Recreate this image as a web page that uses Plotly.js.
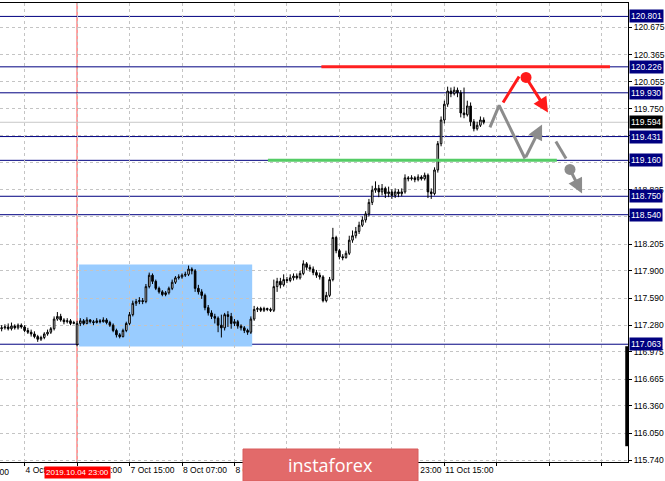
<!DOCTYPE html>
<html>
<head>
<meta charset="utf-8">
<script src="https://cdn.plot.ly/plotly-3.0.1.min.js"></script>
<style>html,body{margin:0;padding:0;background:#fff}#chart{width:665px;height:481px}</style>
</head>
<body>
<div id="chart"></div>
<script>
// ---- data (bar index 0 = 2019.10.04 23:00, H1 bars) ----
const firstBar = -23;
const openP = [117.24,117.25,117.26,117.24,117.27,117.25,117.28,117.26,117.22,117.20,117.18,117.15,117.12,117.14,117.18,117.20,117.24,117.35,117.38,117.34,117.32,117.33,117.30,
117.06,117.30,117.33,117.30,117.34,117.32,117.31,117.33,117.32,117.34,
117.31,117.28,117.22,117.17,117.15,117.22,117.30,117.40,117.53,117.55,
117.56,117.55,117.72,117.85,117.78,117.70,117.66,117.63,117.65,117.70,
117.77,117.82,117.83,117.85,117.86,117.92,117.90,117.70,117.66,117.62,
117.48,117.42,117.38,117.36,117.28,117.25,117.40,117.38,117.30,117.32,
117.27,117.25,117.22,117.20,117.35,117.46,117.47,117.45,117.47,117.46,
117.45,117.72,117.78,117.74,117.80,117.79,117.82,117.84,117.82,117.87,
117.98,117.94,117.92,117.88,117.85,117.83,117.56,117.62,117.80,118.28,
118.13,118.06,118.05,118.10,118.25,118.30,118.35,118.42,118.48,118.55,
118.68,118.82,118.84,118.80,118.84,118.78,118.80,118.76,118.80,118.78,
118.80,118.96,118.95,118.96,118.94,118.97,118.95,118.99,118.80,118.78,
119.05,119.35,119.62,119.80,119.95,119.92,119.96,119.93,119.70,119.68,
119.78,119.60,119.52,119.56,119.62];
const highP = [117.28,117.29,117.30,117.31,117.29,117.30,117.30,117.28,117.25,117.23,117.21,117.17,117.16,117.20,117.23,117.26,117.38,117.43,117.41,117.36,117.36,117.35,117.33,
117.33,117.36,117.35,117.37,117.35,117.34,117.36,117.35,117.37,117.36,
117.33,117.30,117.24,117.19,117.24,117.32,117.43,117.56,117.58,117.60,
117.59,117.75,117.88,117.87,117.80,117.72,117.68,117.67,117.72,117.80,
117.84,117.86,117.87,117.89,117.96,117.94,117.92,117.74,117.69,117.64,
117.51,117.45,117.41,117.38,117.40,117.42,117.44,117.42,117.35,117.34,
117.29,117.27,117.24,117.38,117.50,117.49,117.49,117.49,117.48,117.48,
117.80,117.82,117.82,117.86,117.83,117.86,117.87,117.87,117.90,118.02,
118.00,117.97,117.95,117.91,117.88,117.85,117.66,117.83,118.39,118.30,
118.15,118.09,118.13,118.30,118.36,118.40,118.46,118.52,118.58,118.72,
118.87,118.92,118.88,118.89,118.86,118.86,118.83,118.84,118.83,118.84,
119.00,118.98,118.99,118.98,119.00,118.99,119.02,119.01,118.84,119.08,
119.38,119.66,119.84,120.00,119.99,120.00,119.99,119.96,119.99,119.84,
119.82,119.63,119.60,119.66,119.65];
const lowP = [117.21,117.23,117.22,117.22,117.23,117.23,117.24,117.20,117.18,117.15,117.13,117.09,117.10,117.12,117.16,117.18,117.22,117.33,117.32,117.29,117.30,117.28,117.29,
117.04,117.27,117.28,117.29,117.30,117.28,117.30,117.30,117.31,117.29,
117.26,117.20,117.14,117.13,117.14,117.20,117.28,117.38,117.50,117.52,
117.52,117.53,117.70,117.75,117.68,117.64,117.61,117.61,117.63,117.68,
117.75,117.80,117.81,117.83,117.84,117.86,117.66,117.63,117.58,117.45,
117.39,117.35,117.30,117.20,117.14,117.22,117.26,117.24,117.27,117.24,
117.22,117.19,117.17,117.18,117.33,117.43,117.43,117.43,117.44,117.43,
117.43,117.66,117.70,117.72,117.76,117.77,117.79,117.80,117.80,117.85,
117.91,117.89,117.85,117.82,117.80,117.54,117.54,117.60,117.78,118.10,
118.03,118.02,118.04,118.08,118.22,118.27,118.32,118.40,118.45,118.52,
118.65,118.79,118.74,118.76,118.73,118.74,118.72,118.73,118.74,118.75,
118.78,118.92,118.93,118.91,118.92,118.93,118.93,118.73,118.72,118.76,
119.02,119.32,119.58,119.77,119.88,119.90,119.88,119.65,119.64,119.66,
119.55,119.49,119.50,119.54,119.57];
const closeP = [117.25,117.26,117.24,117.27,117.25,117.28,117.26,117.22,117.20,117.18,117.15,117.12,117.14,117.18,117.20,117.24,117.35,117.38,117.34,117.32,117.33,117.30,117.31,
117.30,117.33,117.30,117.34,117.32,117.31,117.33,117.32,117.34,117.31,
117.28,117.22,117.17,117.15,117.22,117.30,117.40,117.53,117.55,117.56,
117.55,117.72,117.85,117.78,117.70,117.66,117.63,117.65,117.70,117.77,
117.82,117.83,117.85,117.86,117.92,117.90,117.70,117.66,117.62,117.48,
117.42,117.38,117.36,117.28,117.25,117.40,117.38,117.30,117.32,117.27,
117.25,117.22,117.20,117.35,117.46,117.47,117.45,117.47,117.46,117.45,
117.72,117.78,117.74,117.80,117.79,117.82,117.84,117.82,117.87,117.98,
117.94,117.92,117.88,117.85,117.83,117.56,117.62,117.80,118.28,118.13,
118.06,118.05,118.10,118.25,118.30,118.35,118.42,118.48,118.55,118.68,
118.82,118.84,118.80,118.84,118.78,118.80,118.76,118.80,118.78,118.80,
118.96,118.95,118.96,118.94,118.97,118.95,118.99,118.80,118.78,119.05,
119.35,119.62,119.80,119.95,119.92,119.96,119.93,119.70,119.68,119.78,
119.60,119.52,119.56,119.62,119.594];

const timeTickBars = [-16,0,16,32,48,64,80,96,112,128,144,160];
// labels at 64 and 80 are fully hidden under the watermark in the original
const timeTickLabels = ['4 Oct 07:00','4 Oct 23:00','7 Oct 15:00','8 Oct 07:00','8 Oct 23:00','','','10 Oct 23:00','11 Oct 15:00','','',''];
const priceTicks = [120.675,120.365,120.055,119.750,119.440,119.130,118.825,118.515,118.205,117.900,117.590,117.280,116.975,116.665,116.360,116.050,115.740];
const hiddenTicks = [119.440,119.130,118.515]; // covered by level labels in the original
const levels = [120.801,120.226,119.930,119.431,119.160,118.750,118.540,117.063];
const bidPrice = 119.594;
const markerBar = 0; // 2019.10.04 23:00
const markerLabel = '2019.10.04 23:00';
// blue zone: bars & prices
const zoneBars = [0.6, 53.4];
const zonePrices = [117.037, 117.973];
// resistance (red) and support (green) segments
const redSegBars = [74.5,162.5];
const redSegPrices = [120.226,120.226];
const greenSegBars = [58.2,146.3];
const greenSegPrices = [119.160,119.160];
// forecast drawing paths (bar, price)
const greyPathBars = [125.9,128.7,136.6];
const greyPathPrices = [119.535,119.786,119.181];
const greyArrowTip = [141.8,119.569];
const redPathBars = [129.9,134.8];
const redPathPrices = [119.82,120.116];
const redDot = [136.9,120.105];
const redArrowTip = [143.6,119.706];
const dashPathBars = [146.0,149.1];
const dashPathPrices = [119.375,119.181];
const greyDot = [150.3,119.056];
const greyArrowTip2 = [154.0,118.782];

const xBars = closeP.map((_, k) => firstBar + k);
const fmt = v => v.toFixed(3);
const FONT = 'Liberation Sans, Arial, sans-serif';
const NAVY = '#000080';
const traces = [
  {type:'candlestick', x:xBars, open:openP, high:highP, low:lowP, close:closeP,
   increasing:{line:{color:'#000000',width:1}, fillcolor:'#ffffff'},
   decreasing:{line:{color:'#000000',width:1}, fillcolor:'#000000'},
   whiskerwidth:0, hoverinfo:'skip', showlegend:false},
  {type:'scatter', mode:'lines', x:redSegBars, y:redSegPrices,
   line:{color:'#ff2020',width:3}, hoverinfo:'skip', showlegend:false},
  {type:'scatter', mode:'lines', x:greenSegBars, y:greenSegPrices,
   line:{color:'#55cc66',width:3}, hoverinfo:'skip', showlegend:false},
  {type:'scatter', mode:'lines', x:greyPathBars, y:greyPathPrices,
   line:{color:'#8c8c8c',width:3}, hoverinfo:'skip', showlegend:false},
  {type:'scatter', mode:'lines', x:redPathBars, y:redPathPrices,
   line:{color:'#ff1a1a',width:3}, hoverinfo:'skip', showlegend:false},
  {type:'scatter', mode:'lines', x:dashPathBars, y:dashPathPrices,
   line:{color:'#8c8c8c',width:3}, hoverinfo:'skip', showlegend:false},
  {type:'scatter', mode:'markers', x:[redDot[0]], y:[redDot[1]],
   marker:{color:'#ff1a1a',size:11}, hoverinfo:'skip', showlegend:false},
  {type:'scatter', mode:'markers', x:[greyDot[0]], y:[greyDot[1]],
   marker:{color:'#8c8c8c',size:11}, hoverinfo:'skip', showlegend:false}
];

const shapes = [];
shapes.push({type:'rect', xref:'x', yref:'y', x0:zoneBars[0], x1:zoneBars[1], y0:zonePrices[0], y1:zonePrices[1],
  fillcolor:'#99ccff', line:{width:0}, layer:'below'});
shapes.push({type:'line', xref:'x', yref:'paper', x0:markerBar, x1:markerBar, y0:0, y1:1,
  line:{color:'#ff8080',width:1.5}, layer:'below'});
shapes.push({type:'line', xref:'paper', yref:'y', x0:0, x1:1, y0:bidPrice, y1:bidPrice,
  line:{color:'#c8c8c8',width:1}, layer:'below'});
levels.forEach(v => shapes.push({type:'line', xref:'paper', yref:'y', x0:0, x1:1, y0:v, y1:v,
  line:{color:NAVY,width:1}, layer:'below'}));
shapes.push({type:'line', xref:'paper', yref:'y', x0:0.998, x1:0.998, y0:115.90, y1:117.04,
  line:{color:'#000000',width:3}});
// watermark box
shapes.push({type:'rect', xref:'paper', yref:'paper', x0:243/628, x1:418/628, y0:-19/459, y1:13/459,
  fillcolor:'#e26a6a', line:{color:'#d85c5c',width:1}, layer:'above'});

const annotations = [];
levels.forEach(v => annotations.push({xref:'paper', yref:'y', x:1, y:v, xanchor:'left', yanchor:'middle', xshift:1,
  text:fmt(v), showarrow:false, bgcolor:NAVY, font:{color:'#ffffff',size:8.5,family:FONT}, borderpad:1}));
annotations.push({xref:'paper', yref:'y', x:1, y:bidPrice, xanchor:'left', yanchor:'middle', xshift:1,
  text:fmt(bidPrice), showarrow:false, bgcolor:'#000000', font:{color:'#ffffff',size:8.5,family:FONT}, borderpad:1});
annotations.push({xref:'x', yref:'paper', x:markerBar, y:-10/459, xanchor:'center', yanchor:'middle',
  text:markerLabel, showarrow:false, bgcolor:'#ff0000', font:{color:'#ffffff',size:8,family:FONT}, borderpad:1});
annotations.push({xref:'paper', yref:'paper', x:11/628, y:-10/459, xanchor:'right', yanchor:'middle',
  text:'3 Oct 15:00', showarrow:false, font:{color:'#000000',size:8.5,family:FONT}});
// arrows
annotations.push({xref:'x', yref:'y', axref:'x', ayref:'y', x:greyArrowTip[0], y:greyArrowTip[1],
  ax:greyPathBars[2], ay:greyPathPrices[2], showarrow:true, arrowhead:2, arrowsize:1, arrowwidth:3, arrowcolor:'#8c8c8c', text:''});
annotations.push({xref:'x', yref:'y', axref:'x', ayref:'y', x:redArrowTip[0], y:redArrowTip[1],
  ax:redDot[0], ay:redDot[1], showarrow:true, arrowhead:2, arrowsize:1, arrowwidth:3, arrowcolor:'#ff1a1a', text:''});
annotations.push({xref:'x', yref:'y', axref:'x', ayref:'y', x:greyArrowTip2[0], y:greyArrowTip2[1],
  ax:greyDot[0], ay:greyDot[1], showarrow:true, arrowhead:2, arrowsize:1, arrowwidth:3, arrowcolor:'#8c8c8c', text:''});
annotations.push({xref:'paper', yref:'paper', x:330.5/628, y:-3/459, xanchor:'center', yanchor:'middle',
  text:'instaforex', showarrow:false, font:{color:'#ffffff',size:18,family:'Open Sans, sans-serif'}});

const layout = {
  width:665, height:481,
  margin:{l:0, r:37, t:3, b:19, pad:0},
  paper_bgcolor:'#ffffff', plot_bgcolor:'#ffffff',
  showlegend:false, dragmode:false,
  font:{family:FONT, size:8.5, color:'#000000'},
  xaxis:{range:[-23.5,168], tickvals:timeTickBars, ticktext:timeTickLabels, tickangle:0,
    ticklabelposition:'outside right', ticks:'outside', ticklen:3, tickcolor:'#000',
    showgrid:true, gridcolor:'#c4c4c4', griddash:'3px,3px', gridwidth:1,
    showline:true, linecolor:'#000000', linewidth:1, mirror:true, zeroline:false,
    rangeslider:{visible:false}, fixedrange:true, tickfont:{size:8.5}},
  yaxis:{side:'right', range:[115.72,120.954], tickvals:priceTicks,
    ticktext:priceTicks.map(v => hiddenTicks.includes(v) ? '' : fmt(v)),
    ticks:'outside', ticklen:3, tickcolor:'#000',
    showgrid:true, gridcolor:'#c4c4c4', griddash:'3px,3px', gridwidth:1,
    showline:true, linecolor:'#000000', linewidth:1, zeroline:false, fixedrange:true, tickfont:{size:8.5}},
  shapes:shapes, annotations:annotations
};
Plotly.newPlot('chart', traces, layout, {displayModeBar:false, staticPlot:true});
</script>
</body>
</html>
